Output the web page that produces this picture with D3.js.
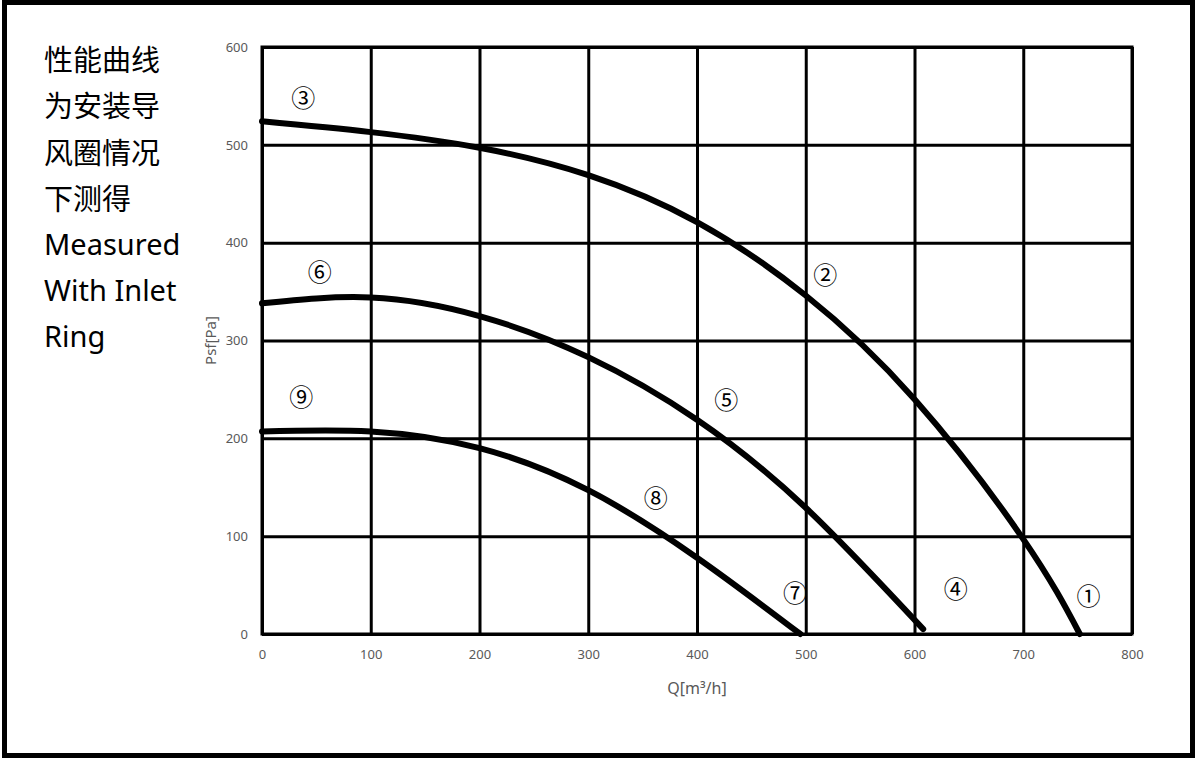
<!DOCTYPE html>
<html>
<head>
<meta charset="utf-8">
<script src="https://cdn.jsdelivr.net/npm/d3@7"></script>
<style>
  body { margin: 0; background: #fff; }
</style>
</head>
<body>
<div id="chart"></div>
<script>
// curve data [Q m3/h, Psf Pa]
const curveHigh = [[0, 524], [100, 513], [200, 497], [300, 469], [400, 421], [500, 346], [600, 240], [700, 97], [752, 0]];
const curveMid = [[0, 338], [100, 344], [200, 325], [300, 283], [400, 219], [500, 129], [608, 5]];
const curveLow = [[0, 207], [100, 207], [200, 190], [300, 147], [400, 78], [495, 0]];

const markerLabels = ["①", "②", "③", "④", "⑤", "⑥", "⑦", "⑧", "⑨"];
const markerQ = [760, 518, 38, 638, 427, 53, 490, 362, 36];
const markerP = [40, 368, 549, 48, 241, 372, 43, 141, 244];

const noteLines = ["性能曲线", "为安装导", "风圈情况", "下测得", "Measured", "With Inlet", "Ring"];

const xTicks = [0, 100, 200, 300, 400, 500, 600, 700, 800];
const yTicks = [0, 100, 200, 300, 400, 500, 600];

const W = 1197, H = 761;
const margin = { left: 262, right: 65, top: 47, bottom: 127 };

const svg = d3.select("#chart").append("svg")
  .attr("width", W)
  .attr("height", H);

svg.append("rect")
  .attr("x", 4.5).attr("y", 2.5)
  .attr("width", 1188).attr("height", 753)
  .attr("fill", "#fff")
  .attr("stroke", "#000")
  .attr("stroke-width", 5);

const x = d3.scaleLinear().domain([0, 800]).range([margin.left, W - margin.right]);
const y = d3.scaleLinear().domain([0, 600]).range([H - margin.bottom, margin.top]);

// grid via axes
const gx = svg.append("g")
  .attr("transform", `translate(0,${y(0)})`)
  .call(d3.axisBottom(x).tickValues(xTicks).tickSize(-(y(0) - y(600))).tickPadding(16));
const gy = svg.append("g")
  .attr("transform", `translate(${x(0)},0)`)
  .call(d3.axisLeft(y).tickValues(yTicks).tickSize(-(x(800) - x(0))).tickPadding(14));

[gx, gy].forEach(g => {
  g.select(".domain").remove();
  g.selectAll(".tick line").attr("stroke", "#000").attr("stroke-width", 3);
  g.selectAll(".tick text")
    .attr("fill", "#595959")
    .style("font-family", "'Noto Sans', sans-serif")
    .style("font-size", "13px");
});

// frame
svg.append("rect")
  .attr("x", x(0)).attr("y", y(600))
  .attr("width", x(800) - x(0)).attr("height", y(0) - y(600))
  .attr("fill", "none").attr("stroke", "#000").attr("stroke-width", 3);

const line = d3.line()
  .x(d => x(d[0]))
  .y(d => y(d[1]))
  .curve(d3.curveNatural);

[curveHigh, curveMid, curveLow].forEach(c => {
  svg.append("path")
    .datum(c)
    .attr("d", line)
    .attr("fill", "none")
    .attr("stroke", "#000")
    .attr("stroke-width", 6)
    .attr("stroke-linecap", "round");
});

svg.selectAll(".marker")
  .data(markerLabels)
  .enter().append("text")
  .attr("class", "marker")
  .attr("x", (d, i) => x(markerQ[i]))
  .attr("y", (d, i) => y(markerP[i]))
  .attr("text-anchor", "middle")
  .attr("dominant-baseline", "central")
  .style("font-family", "'Noto Sans CJK SC', sans-serif")
  .style("font-size", "24px")
  .attr("fill", "#000")
  .text(d => d);

// axis titles
svg.append("text")
  .attr("x", (x(0) + x(800)) / 2)
  .attr("y", 694)
  .attr("text-anchor", "middle")
  .attr("fill", "#595959")
  .style("font-family", "'Noto Sans', sans-serif")
  .style("font-size", "16px")
  .text("Q[m³/h]");

svg.append("text")
  .attr("transform", `translate(216,${y(300)}) rotate(-90)`)
  .attr("text-anchor", "middle")
  .attr("fill", "#595959")
  .style("font-family", "'Noto Sans', sans-serif")
  .style("font-size", "15px")
  .text("Psf[Pa]");

// note on the left
svg.selectAll(".note")
  .data(noteLines)
  .enter().append("text")
  .attr("class", "note")
  .attr("x", 44)
  .attr("y", (d, i) => 58 + i * 46.3)
  .attr("dominant-baseline", "central")
  .attr("fill", "#000")
  .style("font-family", (d, i) => i < 4 ? "'Noto Sans CJK SC', sans-serif" : "'Noto Sans', sans-serif")
  .style("font-size", "29px")
  .text(d => d);
</script>
</body>
</html>
